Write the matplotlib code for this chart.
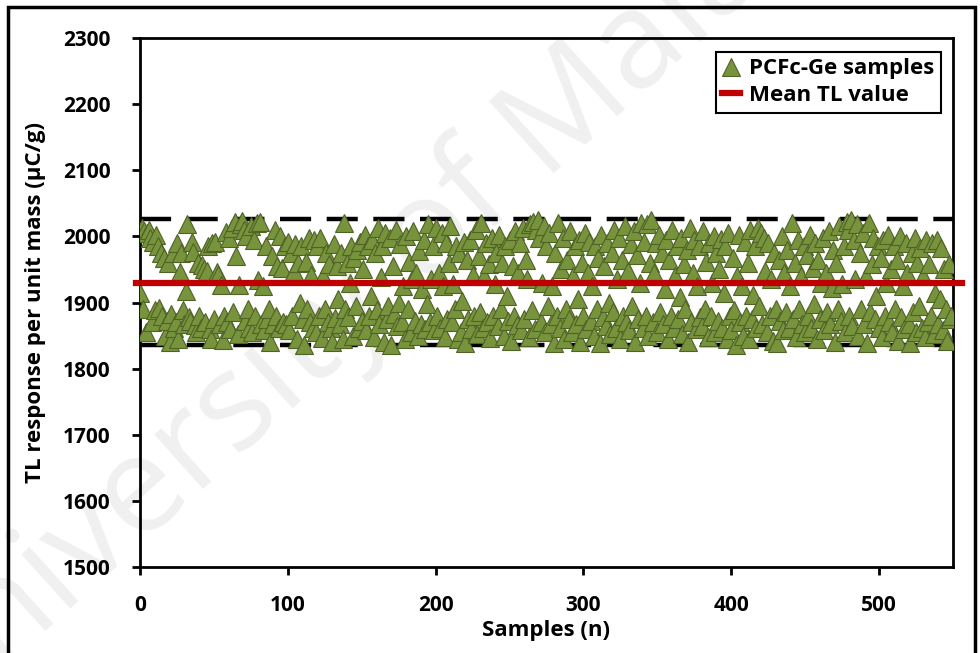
import matplotlib
matplotlib.use('Agg')
import matplotlib.pyplot as plt
from matplotlib.patches import Rectangle

# TL response per unit mass (uC/g), one value per sample
tl_values = [
    1915, 2012, 1890, 2008, 1855, 2005, 2010, 1998, 1870, 1992,
    1888, 2002, 1985, 1892, 1975, 1880, 1968, 1850, 1872, 1960,
    1840, 1882, 1975, 1862, 1870, 1990, 1845, 1946, 1975, 1888,
    1868, 1918, 2018, 1878, 1872, 1992, 1976, 1866, 1855, 1960,
    1880, 1862, 1956, 1950, 1870, 1948, 1985, 1860, 1845, 1990,
    1875, 1992, 1946, 1941, 1868, 1926, 1843, 1880, 2007, 1870,
    1998, 1860, 2012, 1886, 2022, 1971, 1852, 1926, 2018, 2024,
    2010, 1872, 2000, 1890, 1862, 2015, 1855, 1995, 1880, 2020,
    1934, 2022, 1868, 1925, 1858, 1985, 1875, 1890, 1840, 1970,
    1868, 2010, 1880, 1955, 1862, 2000, 1952, 1870, 1985, 1868,
    1992, 1858, 1975, 1880, 1947, 1988, 1845, 1960, 1900, 1985,
    1875, 1836, 1962, 1890, 1998, 1870, 1942, 1862, 1995, 1855,
    1985, 1880, 1998, 1846, 1940, 1890, 1975, 1870, 1958, 1862,
    1840, 1988, 1876, 1955, 1905, 1868, 1975, 1845, 2020, 1890,
    1960, 1878, 1930, 1985, 1850, 1968, 1895, 1980, 1862, 1992,
    1872, 1950, 2002, 1858, 1985, 1880, 1910, 1995, 1848, 1975,
    1888, 2012, 1868, 1938, 1985, 1840, 2005, 1875, 1895, 1998,
    1836, 1955, 1882, 2010, 1865, 1900, 1988, 1870, 1925, 1845,
    2000, 1890, 1962, 1855, 1935, 2008, 1872, 1945, 1850, 1978,
    1868, 1920, 1995, 1860, 1898, 2018, 1870, 1935, 1985, 1858,
    2012, 1880, 1945, 1862, 2005, 1925, 1848, 1990, 1875, 1960,
    2015, 1870, 1928, 1890, 1985, 1845, 1975, 1855, 1902, 1992,
    1838, 1965, 1875, 1995, 1860, 1942, 1880, 2010, 1852, 1970,
    1885, 2020, 1862, 1940, 1990, 1870, 1958, 1846, 1998, 1880,
    1928, 1975, 1865, 2002, 1890, 1960, 1850, 1985, 1910, 1872,
    1995, 1842, 1955, 1880, 2008, 1866, 1945, 1990, 1858, 2012,
    1875, 1965, 1935, 1848, 2018, 1888, 2022, 1860, 2010, 2025,
    1998, 1870, 1930, 2015, 1855, 1985, 1895, 2005, 1868, 1925,
    1838, 1975, 1880, 2020, 1862, 1950, 1998, 1845, 1890, 1965,
    1875, 2008, 1855, 1940, 1985, 1868, 1905, 1995, 1840, 1960,
    1880, 2005, 1860, 1945, 1992, 1872, 1925, 1850, 1985, 1890,
    1968, 1838, 2002, 1878, 1955, 1865, 1990, 1900, 1852, 1975,
    1885, 2010, 1862, 1935, 1998, 1845, 1965, 1880, 2015, 1870,
    1948, 1858, 1988, 1895, 2008, 1840, 1972, 1875, 1930, 2020,
    1862, 1992, 1880, 2018, 1850, 1960, 2025, 1870, 1945, 1990,
    1855, 2002, 1885, 1975, 1868, 1920, 1995, 1845, 1965, 1880,
    2010, 1862, 1940, 1985, 1875, 1908, 1998, 1852, 1958, 1890,
    1980, 1840, 2012, 1870, 1945, 1995, 1860, 1925, 1985, 1878,
    1865, 2008, 1890, 1962, 1848, 1990, 1880, 1930, 2000, 1855,
    1975, 1872, 1950, 1996, 1862, 1915, 1985, 1845, 2005, 1880,
    1858, 1968, 1888, 1835, 1940, 2002, 1870, 1925, 1850, 1992,
    1880, 1960, 1845, 2010, 1875, 1912, 1985, 1862, 2012, 1895,
    2005, 1868, 1998, 1948, 1855, 1990, 1880, 1935, 1842, 1975,
    1890, 1838, 1965, 1872, 2000, 1858, 1945, 1885, 1980, 1862,
    1925, 2020, 1875, 1960, 1848, 1995, 1890, 1940, 1868, 1985,
    1855, 1972, 1880, 2002, 1862, 1952, 1898, 1990, 1845, 1965,
    1875, 1930, 1998, 1858, 1945, 1885, 2008, 1868, 1922, 1980,
    1840, 1960, 1890, 2015, 1872, 1928, 1985, 1855, 2022, 2010,
    1880, 2025, 1865, 1995, 1935, 2018, 1850, 1975, 1890, 2005,
    1868, 1940, 1838, 2020, 1885, 1958, 1998, 1875, 1910, 1985,
    1862, 1968, 1848, 1995, 1880, 1930, 2002, 1870, 1950, 1855,
    1985, 1890, 1965, 1842, 2000, 1878, 1925, 1860, 1990, 1945,
    1868, 1838, 1975, 1885, 1998, 1855, 1960, 1895, 1982, 1862,
    1940, 1848, 1995, 1870, 1958, 1880, 1990, 1852, 1915, 1995,
    1868, 1905, 1982, 1858, 1950, 1890, 1842, 1958, 1875, 1880,
]
samples = list(range(len(tl_values)))

mean_tl = 1930
upper_limit = 2027
lower_limit = 1835

x_ticks = [0, 100, 200, 300, 400, 500]
y_ticks = [1500, 1600, 1700, 1800, 1900, 2000, 2100, 2200, 2300]

font = ['Open Sans', 'DejaVu Sans']
plt.rcParams['font.family'] = font
plt.rcParams['font.weight'] = 'bold'

fig = plt.figure(figsize=(9.8, 6.53), dpi=100)
ax = fig.add_axes([0.1429, 0.1317, 0.8295, 0.8101])
ax.patch.set_visible(False)

# faint watermark behind the plot
fig.text(-0.075, -0.13, 'University of Malaya', fontsize=98, color='#f0f0f0',
         rotation=42, rotation_mode='anchor', ha='left', va='baseline',
         fontweight='normal', zorder=-5)

ax.plot([0, 550], [upper_limit, upper_limit], color='black', lw=3.2,
        dashes=(7, 3.5), zorder=2)
ax.plot([0, 550], [lower_limit, lower_limit], color='black', lw=3.2,
        dashes=(7, 3.5), zorder=2)

ax.plot(samples, tl_values, linestyle='none', marker='^', markersize=13,
        markerfacecolor='#77933C', markeredgecolor='#4F6228', markeredgewidth=0.8,
        label='PCFc-Ge samples', zorder=3)

ax.plot([-3, 556], [mean_tl, mean_tl], color='#C00000', lw=4.5,
        label='Mean TL value', zorder=4, clip_on=False)

ax.set_xlim(0, 550)
ax.set_ylim(1500, 2300)
ax.set_xticks(x_ticks)
ax.set_yticks(y_ticks)
ax.tick_params(axis='both', direction='out', length=6, width=2, labelsize=15)
ax.tick_params(axis='x', pad=14)
ax.tick_params(axis='y', pad=15)
for label in ax.get_xticklabels() + ax.get_yticklabels():
    label.set_fontweight('bold')
for spine in ax.spines.values():
    spine.set_linewidth(2)
    spine.set_color('black')

ax.set_xlabel('Samples (n)', fontsize=16, fontweight='bold', labelpad=3)
ax.set_ylabel('TL response per unit mass (\u00b5C/g)', fontsize=16, fontweight='bold',
              labelpad=12)

leg = ax.legend(loc='upper right', bbox_to_anchor=(0.999, 0.995), fancybox=False,
                framealpha=1, edgecolor='black', handlelength=0.8,
                handletextpad=0.4, borderpad=0.3, labelspacing=0.25,
                prop={'weight': 'bold', 'size': 16})
leg.get_frame().set_linewidth(1.5)

fig.patches.append(Rectangle((0.008, -0.01), 0.987, 1.0, transform=fig.transFigure,
                             fill=False, edgecolor='black', lw=2.5))

fig.savefig('out.png', dpi=100)
